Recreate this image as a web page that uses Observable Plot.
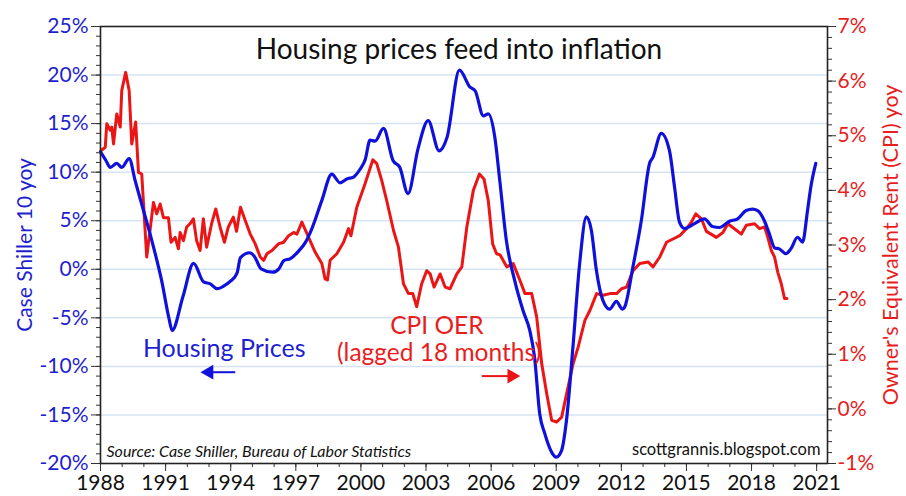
<!DOCTYPE html>
<html><head><meta charset="utf-8">
<script src="https://cdn.jsdelivr.net/npm/d3@7"></script>
<script src="https://cdn.jsdelivr.net/npm/@observablehq/plot@0.6"></script>
<style>body{margin:0;background:#fff}#chart svg{display:block}</style>
</head><body><div id="chart"></div>
<script>
// Case-Shiller 10 yoy (%), left axis
const blueYear = [1988.0,1988.25,1988.45,1988.75,1988.98,1989.32,1989.6,1989.9,1990.36,1990.82,1991.16,1991.3,1991.8,1992.29,1992.75,1993.06,1993.37,1993.83,1994.0,1994.29,1994.45,1994.87,1995.1,1995.4,1995.93,1996.22,1996.45,1996.75,1997.14,1997.45,1997.76,1998.2,1998.66,1999.04,1999.35,1999.66,1999.96,2000.2,2000.42,2000.65,2001.04,2001.48,2001.79,2002.17,2002.63,2003.1,2003.6,2003.97,2004.54,2005.03,2005.26,2005.64,2005.87,2006.17,2006.4,2006.7,2007.09,2007.47,2007.78,2008.0,2008.24,2008.47,2008.78,2009.0,2009.24,2009.47,2009.77,2010.08,2010.39,2010.62,2010.85,2011.15,2011.46,2011.77,2012.05,2012.15,2012.53,2012.92,2013.3,2013.45,2013.84,2014.22,2014.45,2014.68,2014.91,2015.37,2015.83,2016.2,2016.52,2016.98,2017.36,2017.75,2018.05,2018.28,2018.59,2018.82,2019.07,2019.28,2019.58,2019.81,2020.12,2020.35,2020.58,2020.73,2020.96];
const blueValue = [12.1,11.2,10.5,10.9,10.5,11.4,9.1,6.7,3.0,-1.2,-5.1,-6.3,-2.8,0.6,-1.3,-1.5,-2.0,-1.5,-1.2,-0.4,1.2,1.7,1.3,0.05,-0.3,0.05,0.9,1.1,1.9,2.8,4.3,7.1,9.8,8.9,9.3,9.5,10.3,11.3,13.3,13.2,14.5,11.2,10.5,7.8,12.4,15.3,12.2,13.6,20.5,18.75,18.4,15.8,16.0,13.6,9.1,3.0,-1.2,-4.25,-6.3,-9.05,-14.9,-16.9,-18.8,-19.35,-18.7,-15.6,-8.0,0.6,5.4,4.0,-0.1,-3.2,-4.1,-3.3,-4.1,-3.9,0.2,5.0,10.9,11.5,14.0,12.2,8.5,4.85,4.2,4.7,5.2,4.4,4.3,4.95,5.2,6.05,6.2,6.05,5.0,3.65,2.2,2.1,1.6,2.1,3.3,2.8,6.05,8.45,10.9];

// CPI Owners' Equivalent Rent yoy (%), lagged 18 months, right axis
const redYear = [1988.03,1988.22,1988.29,1988.45,1988.52,1988.6,1988.75,1988.91,1988.98,1989.16,1989.32,1989.44,1989.62,1989.75,1989.9,1990.13,1990.44,1990.59,1990.75,1990.9,1991.13,1991.25,1991.44,1991.59,1991.67,1991.82,1991.97,1992.13,1992.28,1992.43,1992.59,1992.74,1992.89,1993.12,1993.31,1993.51,1993.71,1993.89,1994.12,1994.27,1994.45,1994.67,1994.9,1995.13,1995.36,1995.52,1995.67,1995.9,1996.2,1996.44,1996.67,1996.9,1997.05,1997.28,1997.59,1997.89,1998.2,1998.35,1998.46,1998.58,1998.89,1999.2,1999.43,1999.54,1999.81,2000.19,2000.55,2000.73,2000.96,2001.19,2001.5,2001.73,2001.96,2002.19,2002.39,2002.57,2002.8,2003.03,2003.19,2003.37,2003.65,2003.88,2004.11,2004.42,2004.65,2004.88,2005.18,2005.46,2005.67,2005.87,2006.07,2006.25,2006.41,2006.72,2007.02,2007.33,2007.56,2007.87,2008.1,2008.33,2008.56,2008.79,2009.02,2009.25,2009.48,2009.78,2010.01,2010.32,2010.55,2010.86,2011.16,2011.47,2011.78,2012.01,2012.24,2012.54,2012.85,2013.23,2013.46,2013.77,2014.08,2014.38,2014.69,2015.0,2015.23,2015.43,2015.69,2015.92,2016.38,2016.68,2016.91,2017.3,2017.53,2017.76,2018.14,2018.37,2018.6,2018.75,2018.91,2019.06,2019.21,2019.37,2019.52,2019.63];
const redValue = [4.73,4.79,5.22,5.1,5.16,4.85,5.4,5.16,5.83,6.16,5.83,4.85,5.25,4.33,4.3,2.78,3.78,3.57,3.75,3.5,3.5,3.05,3.14,2.93,3.23,3.08,3.33,3.39,3.48,3.08,2.9,3.48,2.96,3.39,3.66,3.33,3.05,3.33,3.51,3.25,3.69,3.45,3.2,3.02,2.78,2.72,2.84,2.9,3.02,3.05,3.17,3.23,3.2,3.42,3.14,2.87,2.66,2.38,2.36,2.72,2.84,3.05,3.3,3.17,3.69,4.12,4.56,4.49,4.18,3.81,3.27,2.96,2.29,2.11,2.11,1.87,2.29,2.53,2.47,2.23,2.47,2.23,2.2,2.47,2.6,3.33,4.0,4.3,4.21,3.81,3.02,2.84,2.82,2.6,2.66,2.35,2.11,2.11,1.68,0.83,0.28,-0.21,-0.24,-0.15,0.28,0.83,1.13,1.62,1.8,2.11,2.08,2.11,2.11,2.2,2.23,2.53,2.66,2.69,2.6,2.78,3.05,3.11,3.17,3.3,3.42,3.57,3.48,3.25,3.14,3.23,3.39,3.27,3.2,3.36,3.39,3.3,3.33,3.14,2.9,2.78,2.5,2.29,2.02,2.02];

const xMajorTicks = [1988,1991,1994,1997,2000,2003,2006,2009,2012,2015,2018,2021];
const leftMajorTicks = [-20,-15,-10,-5,0,5,10,15,20,25];
const rightMajorTicks = [-1,0,1,2,3,4,5,6,7];

const title = "Housing prices feed into inflation";
const leftTitle = "Case Shiller 10 yoy";
const rightTitle = "Owner's Equivalent Rent (CPI) yoy";
const source = "Source: Case Shiller, Bureau of Labor Statistics";
const credit = "scottgrannis.blogspot.com";

const BLUE = "#1010dc", RED = "#ec1515", BLUE_TXT = "#1f1fcf", RED_TXT = "#e81e1e";
const LEFT = [-20, 25], RIGHT = [-1, 7];
const toLeft = r => LEFT[0] + (r - RIGHT[0]) * (LEFT[1] - LEFT[0]) / (RIGHT[1] - RIGHT[0]);
const fromLeft = v => RIGHT[0] + (v - LEFT[0]) * (RIGHT[1] - RIGHT[0]) / (LEFT[1] - LEFT[0]);

const blue = blueYear.map((y, i) => ({year: y, value: blueValue[i]}));
const red = redYear.map((y, i) => ({year: y, value: redValue[i]}));

const fs = 21;
const chart = Plot.plot({
  width: 906, height: 496,
  marginLeft: 100, marginRight: 79, marginTop: 26, marginBottom: 33,
  style: {fontFamily: "Lato, sans-serif", background: "#fff", overflow: "visible"},
  x: {domain: [1988, 2021.5]},
  y: {domain: LEFT},
  marks: [
    Plot.gridY(leftMajorTicks.filter(d => d > -20 && d < 25), {stroke: "#d4e4f4", strokeOpacity: 1, strokeWidth: 1.5}),
    Plot.line(red, {x: "year", y: d => toLeft(d.value), stroke: RED, strokeWidth: 3, curve: "linear"}),
    Plot.line(blue, {x: "year", y: "value", stroke: BLUE, strokeWidth: 3.2, curve: "monotone-x"}),
    // annotations
    Plot.text([title], {frameAnchor: "top", dx: -5, dy: 32, lineAnchor: "bottom", fontSize: 28, fill: "#111"}),
    Plot.text(["Housing Prices"], {x: 1993.7, y: -9.05, lineAnchor: "bottom", fontSize: 25, fill: BLUE_TXT}),
    Plot.link([0], {x1: 1994.21, x2: 1993.1, y1: -10.6, y2: -10.6, stroke: BLUE, strokeWidth: 2}),
    Plot.dot([0], {x: 1993.0, y: -10.6, symbol: "triangle", r: 5.5, rotate: -90, fill: BLUE, stroke: "none"}),
    Plot.text(["CPI OER"], {x: 2003.5, y: -6.7, lineAnchor: "bottom", fontSize: 24.5, fill: RED_TXT}),
    Plot.text(["(lagged 18 months)"], {x: 2003.6, y: -9.4, lineAnchor: "bottom", fontSize: 24.5, fill: RED_TXT}),
    Plot.link([0], {x1: 2005.57, x2: 2006.85, y1: -11.0, y2: -11.0, stroke: RED, strokeWidth: 2}),
    Plot.dot([0], {x: 2006.95, y: -11.0, symbol: "triangle", r: 5.5, rotate: 90, fill: RED, stroke: "none"}),
    Plot.text([source], {frameAnchor: "bottom-left", dx: 6, dy: -6.5, lineAnchor: "bottom", textAnchor: "start", fontSize: 16, fontStyle: "italic", fill: "#111"}),
    Plot.text([credit], {frameAnchor: "bottom-right", dx: -7, dy: -9, lineAnchor: "bottom", textAnchor: "end", fontSize: 16.5, fill: "#111"}),
    Plot.text([leftTitle], {frameAnchor: "left", dx: -69, rotate: -90, textAnchor: "middle", lineAnchor: "bottom", fontSize: 21, fill: BLUE_TXT}),
    Plot.text([rightTitle], {frameAnchor: "right", dx: 70, rotate: -90, textAnchor: "middle", lineAnchor: "bottom", fontSize: 21.5, fill: RED_TXT}),
    // axes
    Plot.axisY({anchor: "left", ticks: d3.range(-20, 26, 1), tickSize: 4, tickFormat: () => "", stroke: "#333", label: null}),
    Plot.axisY({anchor: "left", ticks: leftMajorTicks, tickSize: 9, tickPadding: 3, tickFormat: d => d + "%", stroke: "#333", fill: BLUE_TXT, fontSize: fs, label: null}),
    Plot.axisY({anchor: "right", ticks: d3.range(-1, 7.001, 0.2).map(toLeft), tickSize: 4, tickFormat: () => "", stroke: "#333", label: null}),
    Plot.axisY({anchor: "right", ticks: rightMajorTicks.map(toLeft), tickSize: 8, tickPadding: 2, tickFormat: d => Math.round(fromLeft(d)) + "%", stroke: "#333", fill: RED_TXT, fontSize: fs, label: null}),
    Plot.axisX({ticks: d3.range(1988, 2022, 1), tickSize: 4, tickFormat: () => "", stroke: "#333", label: null}),
    Plot.axisX({ticks: xMajorTicks, tickSize: 8, tickPadding: 4, tickFormat: d => String(d), stroke: "#333", fill: "#111", fontSize: fs, label: null}),
    Plot.frame({stroke: "#222", strokeWidth: 1.6})
  ]
});
document.getElementById("chart").append(chart);
</script></body></html>
